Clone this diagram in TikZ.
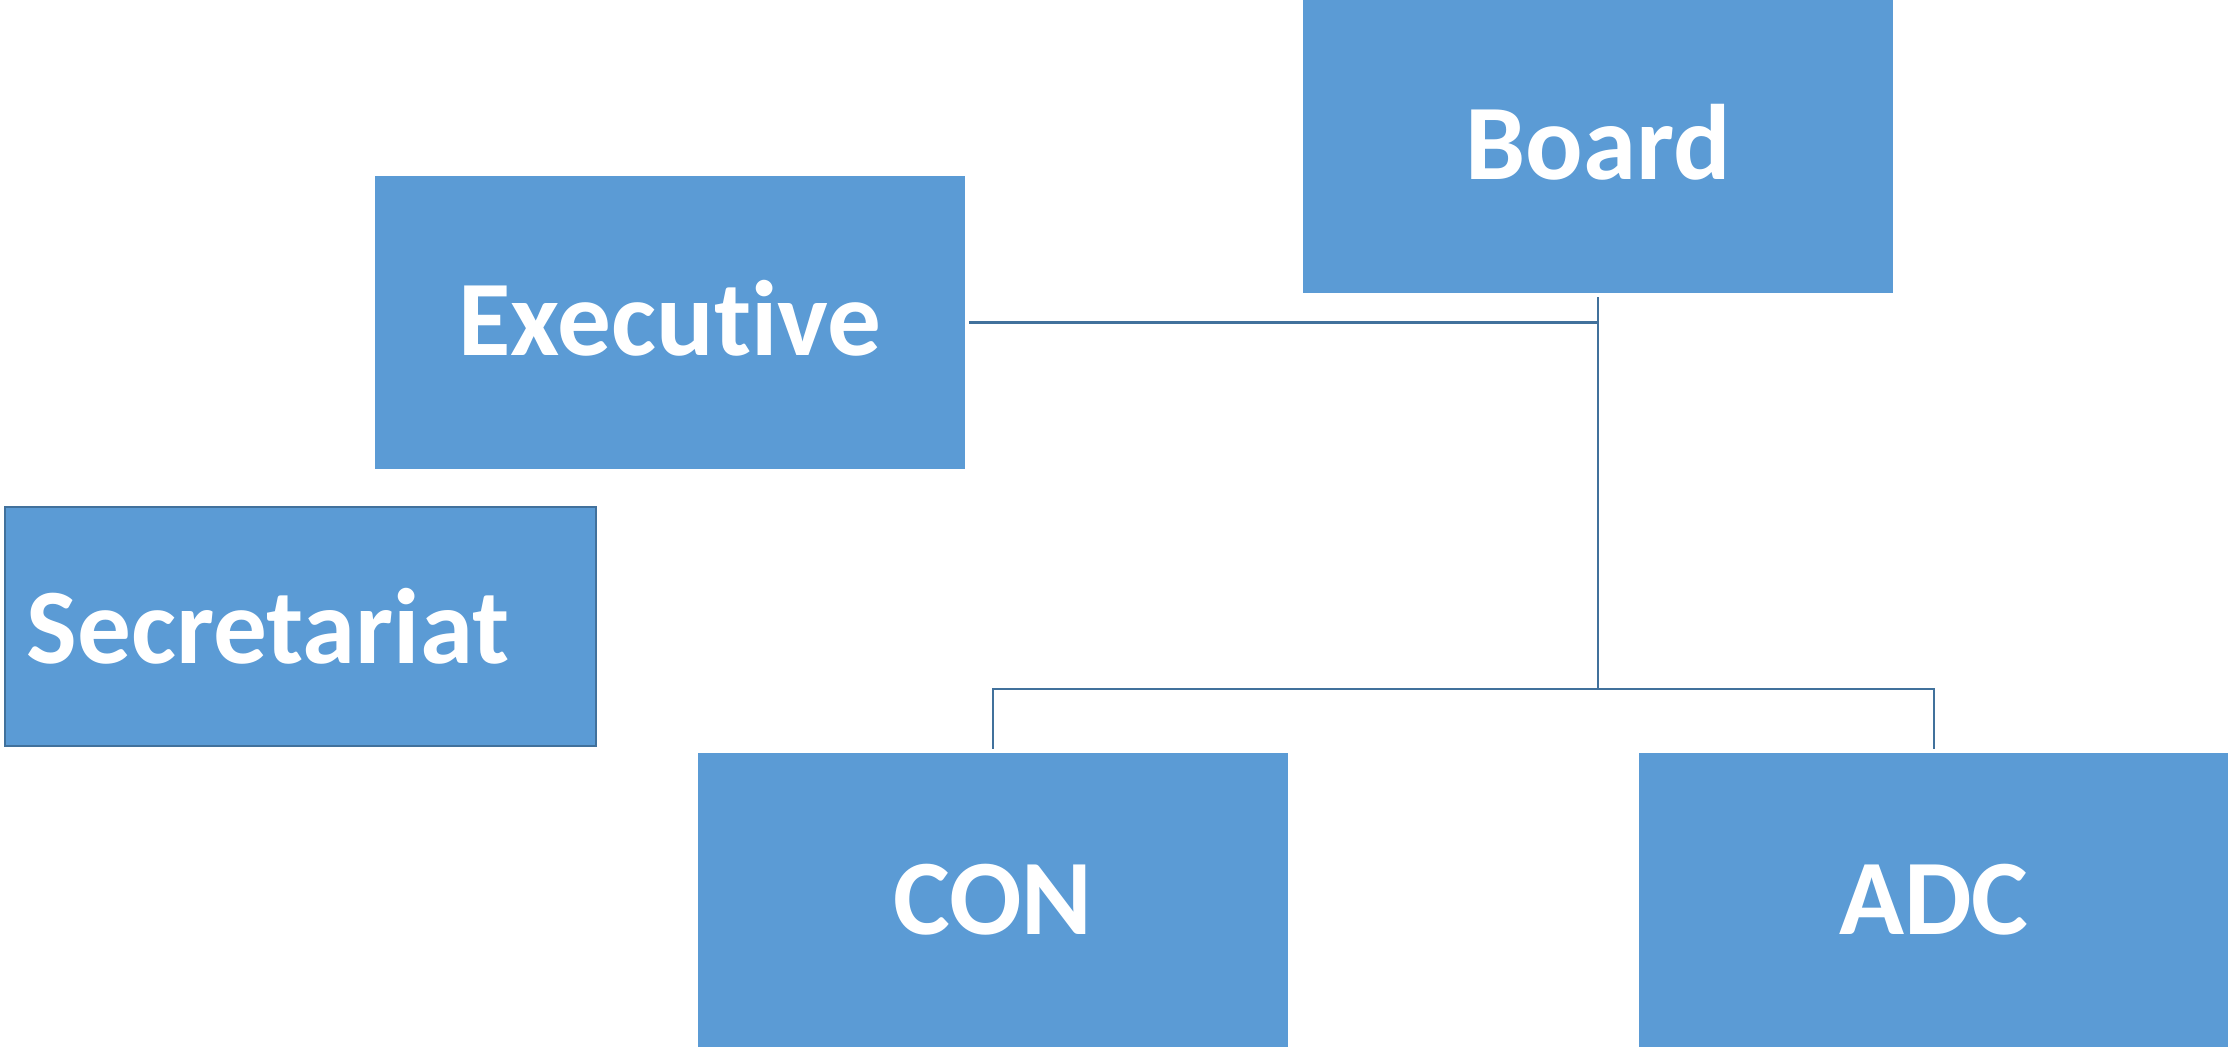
\documentclass[tikz,border=0pt]{standalone}
\usepackage{fontspec}
\setmainfont{Carlito}[Ligatures={NoCommon,NoRare,NoContextual}]
\definecolor{boxblue}{HTML}{5B9BD5}
\definecolor{lineblue}{HTML}{41719C}
\tikzset{
  orgbox/.style={fill=boxblue, draw=none, minimum width=5.9cm, minimum height=2.93cm, inner sep=0pt, text=white, font=\fontsize{30.5}{35}\selectfont\bfseries},
  conn/.style={draw=lineblue, line width=0.75pt}
}
\begin{document}
\begin{tikzpicture}[x=0.01cm,y=-0.01cm]
\useasboundingbox (0,0) rectangle (2228,1048);
\node[orgbox] (board) at (1598,146.5) {\raisebox{2.4pt}{Board}};
\node[orgbox] (exec) at (670,322.5) {\raisebox{2.4pt}{Executive}};
\node[orgbox, draw=lineblue, line width=0.7pt, minimum height=2.39cm, text width=5.47cm, align=left, inner xsep=0.22cm, font=\fontsize{30.5}{35}\selectfont\bfseries] (sec) at (300.5,626.5) {Secretariat};
\node[orgbox, minimum height=2.94cm] (con) at (993,900) {CON};
\node[orgbox, minimum height=2.94cm] (adc) at (1934,900) {ADC};
\coordinate (j) at (1598,689);
\draw[conn] ([yshift=-1pt]board.south) -- (j);
\draw[conn] ([xshift=1pt]exec.east) -- (exec.east -| board.south);
\draw[conn] ([yshift=1pt]con.north) -- (con.north |- j) -- (adc.north |- j) -- ([yshift=1pt]adc.north);
\end{tikzpicture}
\end{document}
